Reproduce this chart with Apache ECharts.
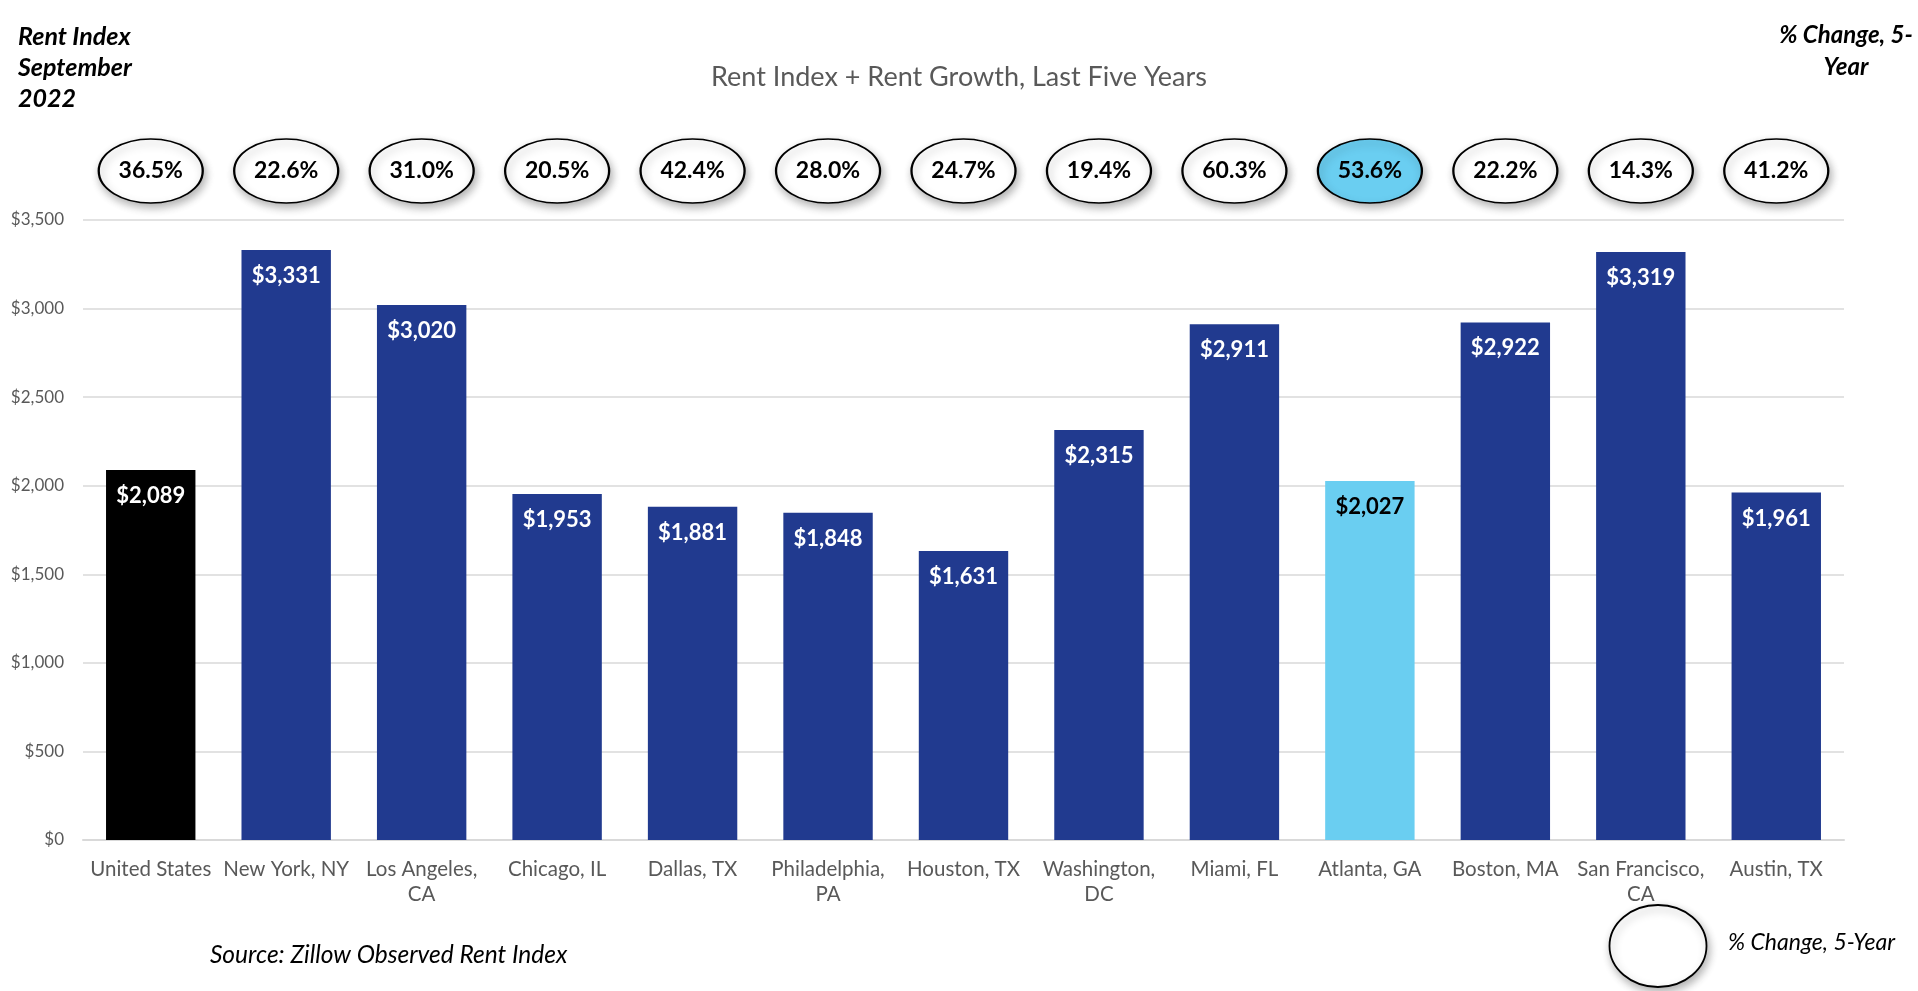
<!DOCTYPE html>
<html>
<head>
<meta charset="utf-8">
<script src="https://cdn.jsdelivr.net/npm/echarts@6/dist/echarts.min.js"></script>
<style>
  html, body { margin: 0; padding: 0; background: #ffffff; }
  #chart { width: 1918px; height: 991px; }
</style>
</head>
<body>
<div id="chart"></div>
<script>
// ---- Data ----
const categories = ['United States', 'New York, NY', 'Los Angeles, CA', 'Chicago, IL', 'Dallas, TX',
  'Philadelphia, PA', 'Houston, TX', 'Washington, DC', 'Miami, FL', 'Atlanta, GA',
  'Boston, MA', 'San Francisco, CA', 'Austin, TX'];
const rentIndex = [2089, 3331, 3020, 1953, 1881, 1848, 1631, 2315, 2911, 2027, 2922, 3319, 1961];
const pctChange5y = [36.5, 22.6, 31.0, 20.5, 42.4, 28.0, 24.7, 19.4, 60.3, 53.6, 22.2, 14.3, 41.2];
const yTicks = { min: 0, max: 3500, interval: 500 };
const nationalCategory = 'United States';
const highlightCategory = 'Atlanta, GA';

// ---- Styles ----
const FONT = 'Lato, "Open Sans", sans-serif';
const NAVY = '#213A8F';
const SKY = '#6ACEF1';
const GRAY = '#595959';

const barData = rentIndex.map((v, i) => {
  const c = categories[i];
  let color = NAVY, labelColor = '#ffffff';
  if (c === nationalCategory) color = '#000000';
  if (c === highlightCategory) { color = SKY; labelColor = '#000000'; }
  return { value: v, itemStyle: { color }, label: { color: labelColor } };
});

const ellipseData = pctChange5y.map((p, i) => ({
  value: [categories[i], 0.5, p],
  itemStyle: { color: categories[i] === highlightCategory ? SKY : '#ffffff' }
}));

const chart = echarts.init(document.getElementById('chart'));
chart.setOption({
  backgroundColor: '#ffffff',
  animation: false,
  title: {
    text: 'Rent Index + Rent Growth, Last Five Years',
    left: 'center', top: 59,
    textStyle: { fontFamily: FONT, fontSize: 27, fontWeight: 'normal', color: GRAY }
  },
  grid: [
    { left: 83, right: 74, top: 220, bottom: 151 },
    { left: 83, right: 74, top: 139, height: 64 }
  ],
  xAxis: [
    {
      type: 'category', gridIndex: 0, data: categories,
      axisLine: { lineStyle: { color: '#D9D9D9', width: 2 } },
      axisTick: { show: false },
      axisLabel: {
        interval: 0, margin: 17, color: GRAY, fontFamily: FONT, fontSize: 20.5, lineHeight: 25,
        formatter: v => v.length > 13 ? v.replace(', ', ',\n') : v
      }
    },
    { type: 'category', gridIndex: 1, data: categories, show: false }
  ],
  yAxis: [
    {
      type: 'value', gridIndex: 0, min: yTicks.min, max: yTicks.max, interval: yTicks.interval,
      axisLine: { show: false }, axisTick: { show: false },
      splitLine: { lineStyle: { color: '#D9D9D9', width: 1.5 } },
      axisLabel: {
        margin: 19, color: GRAY, fontFamily: FONT, fontSize: 17,
        formatter: v => '$' + v.toLocaleString('en-US')
      }
    },
    { type: 'value', gridIndex: 1, min: 0, max: 1, show: false }
  ],
  series: [
    {
      type: 'bar', xAxisIndex: 0, yAxisIndex: 0, data: barData,
      barCategoryGap: '34%',
      label: {
        show: true, position: 'insideTop', distance: 15,
        fontFamily: FONT, fontSize: 22, fontWeight: 'bold',
        formatter: p => '$' + p.value.toLocaleString('en-US')
      }
    },
    {
      type: 'scatter', xAxisIndex: 1, yAxisIndex: 1, data: ellipseData,
      symbol: 'circle', symbolSize: [104, 64],
      itemStyle: {
        opacity: 1,
        borderColor: '#000000', borderWidth: 1.8,
        shadowBlur: 8, shadowOffsetX: 2, shadowOffsetY: 4, shadowColor: 'rgba(0,0,0,0.3)'
      },
      label: {
        show: true, position: 'inside', color: '#000000',
        fontFamily: FONT, fontSize: 23, fontWeight: 'bold',
        formatter: p => p.value[2].toFixed(1) + '%'
      },
      emphasis: { disabled: true },
      z: 5
    }
  ],
  graphic: [
    {
      type: 'text', left: 18, top: 21,
      style: {
        text: 'Rent Index\nSeptember\n2022', fill: '#000000',
        font: 'italic bold 25px ' + FONT, lineHeight: 31
      }
    },
    {
      type: 'text', x: 1846, y: 19,
      style: {
        text: '% Change, 5-\nYear', fill: '#000000', align: 'center',
        font: 'italic bold 24px ' + FONT, lineHeight: 32
      }
    },
    {
      type: 'text', x: 210, y: 955,
      style: {
        text: 'Source: Zillow Observed Rent Index', fill: '#000000', verticalAlign: 'middle',
        font: 'italic 24.5px ' + FONT
      }
    },
    {
      type: 'ellipse', shape: { cx: 1658, cy: 946, rx: 48.5, ry: 41 },
      style: {
        fill: '#ffffff', stroke: '#000000', lineWidth: 1.8,
        shadowBlur: 8, shadowOffsetX: 2, shadowOffsetY: 4, shadowColor: 'rgba(0,0,0,0.3)'
      }
    },
    {
      type: 'text', x: 1728, y: 943,
      style: {
        text: '% Change, 5-Year', fill: '#000000', verticalAlign: 'middle',
        font: 'italic 23px ' + FONT
      }
    }
  ]
});
</script>
</body>
</html>
